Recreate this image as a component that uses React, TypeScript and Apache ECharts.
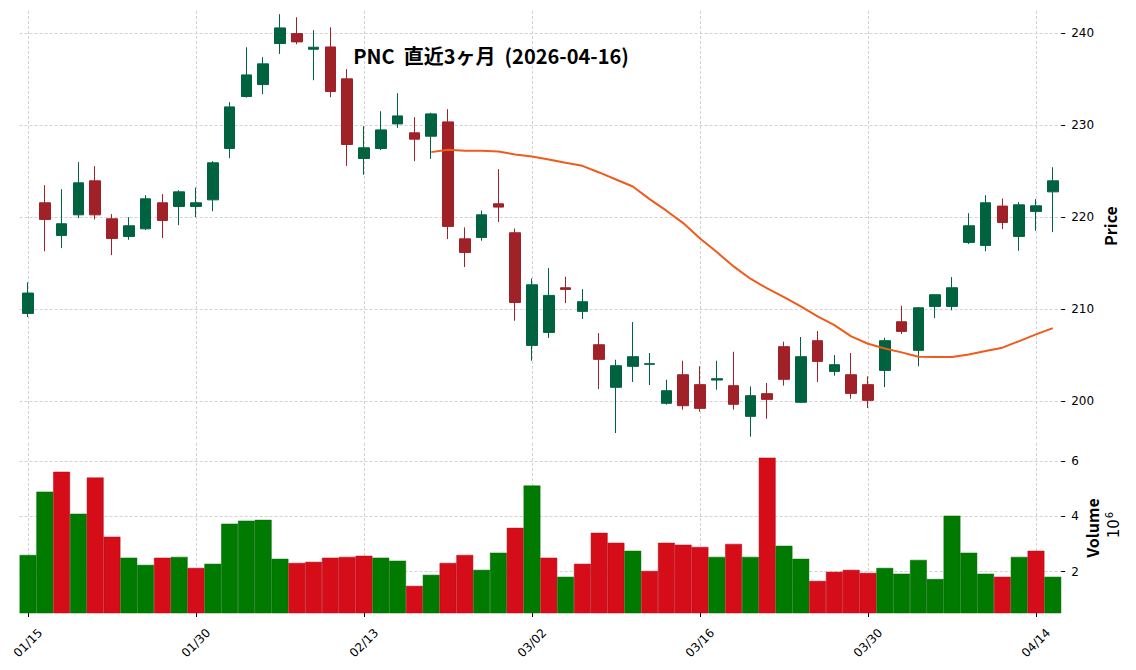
import React, { useRef, useEffect } from 'react';
import * as echarts from 'echarts';

// trading days shown on the x axis
const dates = [
  '01/15', '01/16', '01/20', '01/21', '01/22', '01/23', '01/26', '01/27', '01/28', '01/29',
  '01/30', '02/02', '02/03', '02/04', '02/05', '02/06', '02/09', '02/10', '02/11', '02/12',
  '02/13', '02/17', '02/18', '02/19', '02/20', '02/23', '02/24', '02/25', '02/26', '02/27',
  '03/02', '03/03', '03/04', '03/05', '03/06', '03/09', '03/10', '03/11', '03/12', '03/13',
  '03/16', '03/17', '03/18', '03/19', '03/20', '03/23', '03/24', '03/25', '03/26', '03/27',
  '03/30', '03/31', '04/01', '04/02', '04/06', '04/07', '04/08', '04/09', '04/10', '04/13',
  '04/14', '04/15',
];

const opens = [
  209.53, 221.56, 218.01, 220.25, 223.95, 219.82, 217.9, 218.73, 221.56, 221.16,
  221.16, 221.88, 227.46, 233.12, 234.42, 238.88, 239.96, 238.26, 238.51, 235.04,
  226.38, 227.46, 230.14, 229.17, 228.8, 230.36, 217.64, 217.79, 221.45, 218.3,
  206.05, 207.46, 212.32, 209.75, 206.12, 201.49, 203.77, 203.99, 199.75, 202.86,
  201.78, 202.28, 201.67, 198.33, 200.8, 205.91, 199.86, 206.56, 203.22, 202.86,
  201.78, 203.33, 208.62, 205.51, 210.29, 210.29, 217.25, 216.92, 221.2, 217.9,
  220.62, 222.75,
];

const closes = [
  211.74, 219.75, 219.28, 223.73, 220.25, 217.68, 219.06, 221.99, 219.64, 222.75,
  221.56, 225.91, 231.99, 235.47, 236.67, 240.58, 239.06, 238.48, 233.66, 227.9,
  227.54, 229.49, 231.01, 228.48, 231.23, 218.99, 216.16, 220.25, 221.09, 210.72,
  212.64, 211.49, 212.14, 210.8, 204.53, 203.84, 204.82, 204.06, 201.12, 199.49,
  199.2, 202.43, 199.64, 200.58, 200.18, 202.36, 204.82, 204.31, 203.95, 200.83,
  200.07, 206.56, 207.57, 210.14, 211.56, 212.32, 219.06, 221.56, 219.42, 221.34,
  221.23, 223.95,
];

const lows = [
  209.13, 216.3, 216.63, 219.89, 219.75, 215.87, 217.54, 218.6, 217.72, 219.13,
  220.0, 220.65, 226.41, 233.0, 233.37, 237.75, 238.8, 234.89, 233.04, 225.58,
  224.6, 227.3, 229.71, 226.09, 226.34, 217.61, 214.57, 217.43, 219.46, 208.73,
  204.38, 206.85, 210.65, 208.91, 201.3, 196.52, 202.07, 201.74, 199.6, 199.06,
  198.84, 201.23, 199.06, 196.12, 198.08, 201.67, 199.8, 202.07, 202.75, 200.25,
  199.24, 201.52, 207.28, 203.77, 209.02, 209.86, 217.07, 216.3, 218.7, 216.34,
  218.51, 218.37,
];

const highs = [
  212.9, 223.48, 223.04, 225.98, 225.54, 220.33, 220.0, 222.39, 222.5, 222.93,
  223.22, 226.09, 232.5, 238.48, 237.39, 242.07, 241.74, 240.33, 240.65, 236.09,
  229.89, 231.52, 233.48, 230.87, 231.35, 231.74, 218.88, 220.72, 225.22, 218.77,
  213.33, 214.46, 213.51, 212.17, 207.39, 204.49, 208.59, 205.22, 202.32, 204.38,
  203.77, 204.38, 205.36, 201.59, 201.96, 206.45, 206.96, 207.61, 205.0, 205.22,
  202.68, 206.88, 210.36, 210.22, 211.6, 213.48, 220.43, 222.39, 222.03, 221.63,
  221.96, 225.43,
];

// moving average line (starts on 02/20)
const movingAvg = [
  null, null, null, null, null, null, null, null, null, null,
  null, null, null, null, null, null, null, null, null, null,
  null, null, null, null, 227.07, 227.32, 227.21, 227.21, 227.14, 226.81,
  226.59, 226.27, 225.91, 225.58, 224.86, 224.09, 223.33, 221.96, 220.7, 219.35,
  217.68, 216.2, 214.64, 213.3, 212.25, 211.3, 210.29, 209.2, 208.26, 207.03,
  206.23, 205.72, 205.29, 204.82, 204.78, 204.78, 205.07, 205.43, 205.8, 206.52,
  207.25, 207.93,
];

// volume in millions of shares
const volumeM = [
  2.6, 4.89, 5.61, 4.09, 5.4, 3.26, 2.5, 2.24, 2.5, 2.53,
  2.13, 2.28, 3.73, 3.84, 3.87, 2.46, 2.31, 2.35, 2.5, 2.53,
  2.57, 2.5, 2.39, 1.48, 1.88, 2.31, 2.6, 2.06, 2.68, 3.58,
  5.11, 2.5, 1.81, 2.28, 3.4, 3.04, 2.75, 2.02, 3.04, 2.97,
  2.89, 2.53, 3.0, 2.53, 6.12, 2.93, 2.46, 1.66, 1.99, 2.06,
  1.95, 2.13, 1.92, 2.42, 1.73, 4.02, 2.68, 1.92, 1.81, 2.53,
  2.75, 1.81,
];

// 1 = volume bar drawn green (close above previous close), 0 = red
const volumeUp = [
  1, 1, 0, 1, 0, 0, 1, 1, 0, 1,
  0, 1, 1, 1, 1, 1, 0, 0, 0, 0,
  0, 1, 1, 0, 1, 0, 0, 1, 1, 0,
  1, 0, 1, 0, 0, 0, 1, 0, 0, 0,
  0, 1, 0, 1, 0, 1, 1, 0, 0, 0,
  0, 1, 1, 1, 1, 1, 1, 1, 0, 1,
  0, 1,
];

const priceTicks = [200, 210, 220, 230, 240];
const volumeTicks = [2, 4, 6];

const UP = '#006340';
const DOWN = '#a02128';
const VOL_UP = '#007a00';
const VOL_DOWN = '#d50d18';
const MA_COLOR = '#f05a1a';

const App: React.FC = () => {
  const chartRef = useRef<HTMLDivElement>(null);

  useEffect(() => {
    document.body.style.margin = '0';
    if (!chartRef.current) return;
    const chart = echarts.init(chartRef.current, null, { renderer: 'svg' });

    const gridLine = { show: true, lineStyle: { color: '#c6c6c6', type: [3, 2], width: 0.8 } };
    const tickFont = { fontFamily: 'DejaVu Sans', fontSize: 12, color: '#000' };

    const option: echarts.EChartsOption = {
      animation: false,
      title: {
        text: 'PNC  直近3ヶ月  (2026-04-16)',
        left: 491,
        top: 45,
        textAlign: 'center',
        padding: 0,
        textStyle: { fontFamily: 'Noto Sans CJK JP', fontWeight: 'bold', fontSize: 20, color: '#000' },
      },
      grid: [
        { left: 19.6, right: 74.8, top: 11, height: 429 },
        { left: 19.6, right: 74.8, top: 443, height: 170 },
      ],
      xAxis: [
        {
          type: 'category',
          gridIndex: 0,
          data: dates,
          axisLine: { show: false },
          axisTick: { show: false },
          axisLabel: { show: false },
          splitLine: { ...gridLine, interval: 9, alignWithLabel: true } as any,
        },
        {
          type: 'category',
          gridIndex: 1,
          data: dates,
          axisLine: { show: false },
          axisTick: { show: true, interval: 9, alignWithLabel: true, length: 4, lineStyle: { color: '#000' } },
          axisLabel: { ...tickFont, interval: 9, rotate: 45, align: 'center', verticalAlign: 'middle', margin: 30 },
          splitLine: { ...gridLine, interval: 9, alignWithLabel: true } as any,
        },
      ],
      yAxis: [
        {
          type: 'value',
          gridIndex: 0,
          position: 'right',
          min: 195.76,
          max: 242.42,
          axisLine: { show: false },
          axisTick: { show: true, length: 4, customValues: priceTicks, lineStyle: { color: '#000' } } as any,
          axisLabel: { ...tickFont, margin: 10, customValues: priceTicks } as any,
          splitLine: gridLine,
        },
        {
          type: 'value',
          gridIndex: 1,
          position: 'right',
          min: 0.5,
          max: 6.65,
          axisLine: { show: false },
          axisTick: { show: true, length: 4, customValues: volumeTicks, lineStyle: { color: '#000' } } as any,
          axisLabel: { ...tickFont, margin: 10, customValues: volumeTicks } as any,
          splitLine: gridLine,
        },
      ],
      series: [
        {
          type: 'candlestick',
          xAxisIndex: 0,
          yAxisIndex: 0,
          barWidth: 11,
          data: dates.map((_, i) => [opens[i], closes[i], lows[i], highs[i]]),
          itemStyle: {
            color: UP,
            color0: DOWN,
            borderColor: UP,
            borderColor0: DOWN,
            borderWidth: 1,
          },
        },
        {
          type: 'line',
          xAxisIndex: 0,
          yAxisIndex: 0,
          data: movingAvg,
          showSymbol: false,
          lineStyle: { color: MA_COLOR, width: 2 },
          itemStyle: { color: MA_COLOR },
        },
        {
          type: 'bar',
          xAxisIndex: 1,
          yAxisIndex: 1,
          barWidth: '100%',
          barCategoryGap: '0%',
          data: volumeM.map((v, i) => ({
            value: v,
            itemStyle: {
              color: volumeUp[i] ? VOL_UP : VOL_DOWN,
              borderColor: volumeUp[i] ? '#006a00' : '#b80b15',
              borderWidth: 0.5,
            },
          })),
        },
      ],
      graphic: [
        {
          type: 'text',
          x: 1110,
          y: 226,
          rotation: Math.PI / 2,
          style: {
            text: 'Price',
            fontFamily: 'Noto Sans CJK JP',
            fontWeight: 'bold',
            fontSize: 16,
            fill: '#000',
            textAlign: 'center',
            textVerticalAlign: 'middle',
          },
        },
        {
          type: 'text',
          x: 1092,
          y: 528,
          rotation: Math.PI / 2,
          style: {
            text: 'Volume',
            fontFamily: 'Noto Sans CJK JP',
            fontWeight: 'bold',
            fontSize: 16,
            fill: '#000',
            textAlign: 'center',
            textVerticalAlign: 'middle',
          },
        },
        {
          type: 'text',
          x: 1114,
          y: 525,
          rotation: Math.PI / 2,
          style: {
            text: '{a|10}{b|6}',
            textAlign: 'center',
            textVerticalAlign: 'middle',
            rich: {
              a: { fontFamily: 'DejaVu Sans', fontSize: 15, fill: '#000' },
              b: { fontFamily: 'DejaVu Sans', fontSize: 10, fill: '#000', padding: [0, 0, 9, 1] },
            },
          } as any,
        },
      ],
    };

    chart.setOption(option);

    return () => {
      chart.dispose();
    };
  }, []);

  return <div ref={chartRef} style={{ width: '1136px', height: '670px' }} />;
};

export default App;
